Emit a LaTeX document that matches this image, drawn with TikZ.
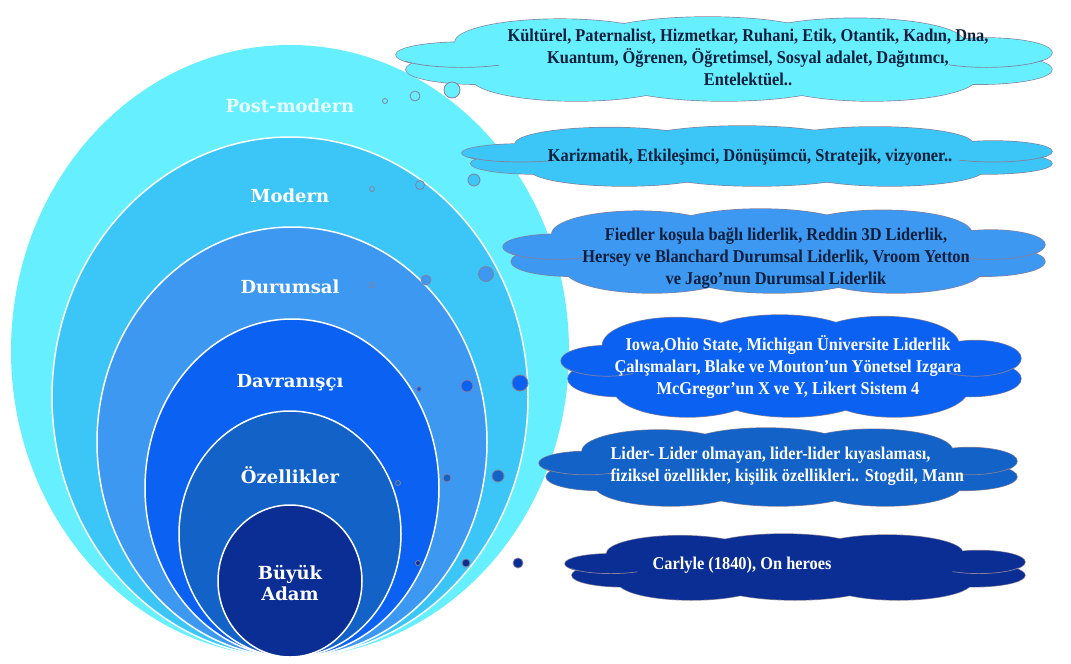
\documentclass[tikz,border=0pt]{standalone}
\usepackage{fontspec}
\usepackage{tikz}
\usepackage{xcolor}
\definecolor{PostCyan}{HTML}{66F0FF}
\definecolor{ModSky}{HTML}{3BC6F7}
\definecolor{DurBlue}{HTML}{3D98F2}
\definecolor{DavBlue}{HTML}{0B62F2}
\definecolor{OzBlue}{HTML}{1262C8}
\definecolor{BuyNavy}{HTML}{0A2E94}
\definecolor{Ink}{HTML}{0D1F3C}
\definecolor{CloudLine}{HTML}{85809A}
\newfontfamily\lblfont{DejaVu Serif}
\newfontfamily\cldfont[FakeStretch=0.91]{Liberation Serif}
\tikzset{
  layer/.style={draw=white,line width=1.5pt},
  lbl/.style={text=white,font=\lblfont\bfseries\fontsize{18}{21}\selectfont,align=center},
  ctxt/.style={font=\cldfont\bfseries\fontsize{18}{22}\selectfont,align=center},
  bub/.style={draw=CloudLine,line width=0.8pt},
  puffline/.style={draw=CloudLine,line width=1.3pt}
}
% puffs of a unit cloud: x/y/x radius/y radius
\newcommand{\puffs}{-0.80/-0.10/0.20/0.30, -0.75/0.25/0.22/0.35,
  -0.50/-0.40/0.32/0.55, -0.05/-0.48/0.35/0.52, 0.40/-0.42/0.33/0.55,
  0.80/-0.15/0.20/0.35, 0.78/0.25/0.22/0.35,
  0.45/0.45/0.32/0.55, 0.00/0.48/0.35/0.52, -0.45/0.45/0.32/0.55, 0/0/0.75/0.6}
% \cloudat{x}{y}{half width}{half height}{colour}{name}
\newcommand{\cloudat}[6]{%
  \coordinate (#6) at (#1,#2);
  \begin{scope}[shift={(#1,#2)},xscale=#3,yscale=#4]
    \foreach \u/\v/\a/\b in \puffs
      \draw[puffline] (\u,\v) ellipse [x radius=\a,y radius=\b];
    \foreach \u/\v/\a/\b in \puffs
      \fill[#5] (\u,\v) ellipse [x radius=\a,y radius=\b];
    \draw[CloudLine,line width=0.7pt] (-0.8,-0.1) ++(150:0.2 and 0.3) arc[start angle=150,end angle=55,x radius=0.2,y radius=0.3];
    \draw[CloudLine,line width=0.7pt] (0.8,-0.15) ++(30:0.2 and 0.35) arc[start angle=30,end angle=125,x radius=0.2,y radius=0.35];
  \end{scope}}

\begin{document}
\begin{tikzpicture}[x=1pt,y=-1pt]
    \useasboundingbox (0,0) rectangle (1071,664);

    % nested ellipses
    \fill[PostCyan] (290,351) ellipse [x radius=279pt,y radius=306pt];
    \draw[layer,fill=ModSky] (290,397) ellipse [x radius=238pt,y radius=260pt];
    \draw[layer,fill=DurBlue] (292,442) ellipse [x radius=195pt,y radius=215pt];
    \draw[layer,fill=DavBlue] (292,488) ellipse [x radius=147pt,y radius=169pt];
    \draw[layer,fill=OzBlue] (290,534) ellipse [x radius=111pt,y radius=123pt];
    \draw[layer,fill=BuyNavy] (290,581) ellipse [x radius=72pt,y radius=76pt];

    \node[lbl,text=white!85!PostCyan] (pm) at (290,106) {Post-modern};
    \node[lbl] (mod) at (290,196) {Modern};
    \node[lbl] (dur) at (290,287) {Durumsal};
    \node[lbl] (dav) at (290,383) {Davranışçı};
    \node[lbl] (oz) at (290,475) {Özellikler};
    \node[lbl] (ba) at (290,583) {Büyük\\Adam};

    % clouds
    \cloudat{724}{59}{328}{42}{PostCyan}{cpm}
    \cloudat{757}{156}{295}{30}{ModSky}{cmod}
    \cloudat{774}{251}{271}{42}{DurBlue}{cdur}
    \cloudat{791}{366}{230}{51}{DavBlue}{cdav}
    \cloudat{778}{467}{239}{39}{OzBlue}{coz}
    \cloudat{795}{567}{230}{33}{BuyNavy}{cba}

    \node[ctxt,text=Ink] (tpm) at (748,57) {Kültürel, Paternalist, Hizmetkar, Ruhani, Etik, Otantik, Kadın, Dna,\\Kuantum, Öğrenen, Öğretimsel, Sosyal adalet, Dağıtımcı,\\Entelektüel..};
    \node[ctxt,text=Ink] (tmod) at (750,157) {Karizmatik, Etkileşimci, Dönüşümcü, Stratejik, vizyoner..};
    \node[ctxt,text=Ink] (tdur) at (776,258) {Fiedler koşula bağlı liderlik, Reddin 3D Liderlik,\\Hersey ve Blanchard Durumsal Liderlik, Vroom Yetton\\ve Jago’nun Durumsal Liderlik};
    \node[ctxt,text=white] (tdav) at (788,367) {Iowa,Ohio State, Michigan Üniversite Liderlik\\Çalışmaları, Blake ve Mouton’un Yönetsel Izgara\\McGregor’un X ve Y, Likert Sistem 4};
    \node[ctxt,text=white,align=left,anchor=west] (toz) at (607,466) {Lider- Lider olmayan, lider-lider kıyaslaması,\\fiziksel özellikler, kişilik özellikleri.. Stogdil, Mann};
    \node[ctxt,text=white] (tba) at (742,565) {Carlyle (1840), On heroes};

    % thought bubbles
    \foreach \x/\y/\r in {385/101/2.5,415/96/5,452/90/8}
        \draw[bub,fill=PostCyan] (\x,\y) circle (\r pt);
    \foreach \x/\y/\r in {372/189/2.5,420/185/4.5,474/180/6}
        \draw[bub,fill=ModSky] (\x,\y) circle (\r pt);
    \foreach \x/\y/\r in {372/285/2.5,426/280/5,486/274/7.5}
        \draw[bub,fill=DurBlue] (\x,\y) circle (\r pt);
    \foreach \x/\y/\r in {419/389/2.5,467/386/6,520/383/8}
        \draw[bub,fill=DavBlue] (\x,\y) circle (\r pt);
    \foreach \x/\y/\r in {398/483/2.5,447/478/4,498/476/6}
        \draw[bub,fill=OzBlue] (\x,\y) circle (\r pt);
    \foreach \x/\y/\r in {418/563/2.5,466/563/4,518/563/5}
        \draw[bub,fill=BuyNavy] (\x,\y) circle (\r pt);
\end{tikzpicture}
\end{document}
